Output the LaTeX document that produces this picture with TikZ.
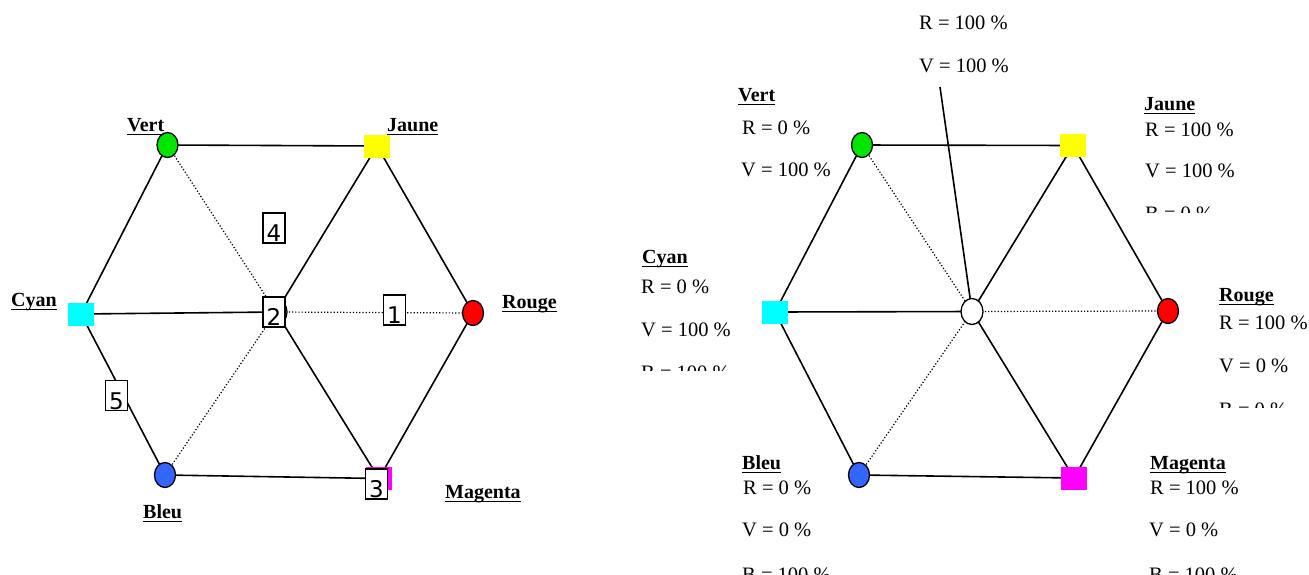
\documentclass[tikz,border=0pt]{standalone}
\usepackage{fontspec}
\setmainfont{Liberation Serif}
\newfontfamily\digfont{DejaVu Sans}
\usetikzlibrary{shapes.geometric}
\pgfdeclarelayer{back}
\pgfdeclarelayer{bg}
\pgfsetlayers{back,bg,main}
\definecolor{cgreen}{RGB}{0,230,0}
\definecolor{cyellow}{RGB}{255,255,0}
\definecolor{ccyan}{RGB}{0,255,255}
\definecolor{cred}{RGB}{255,0,0}
\definecolor{cblue}{RGB}{51,102,255}
\definecolor{cmag}{RGB}{255,0,255}
\newsavebox\ulbox
\newcommand\uln[1]{\sbox\ulbox{#1}\rlap{\rule[-4pt]{\wd\ulbox}{1.4pt}}\usebox\ulbox}
\tikzset{
  edge/.style={line width=1.6pt},
  dotedge/.style={line width=1.2pt, dotted},
  circ/.style={ellipse, draw, line width=1.3pt, minimum width=21pt, minimum height=25pt, inner sep=0pt},
  sq/.style={rectangle, minimum width=26pt, minimum height=23pt, inner sep=0pt},
  numbox/.style={draw, fill=white, line width=1.2pt, minimum width=22pt, minimum height=30pt, inner sep=0pt, text height=27pt, text depth=0pt, font=\digfont\fontsize{23}{23}\selectfont},
  lbl/.style={anchor=base west, inner sep=0pt, font=\bfseries\fontsize{20}{24}\selectfont},
  val/.style={anchor=base west, inner sep=0pt, font=\fontsize{20.5}{24}\selectfont},
}
\begin{document}
\begin{tikzpicture}[x=1pt,y=-1pt]
\useasboundingbox (0,0) rectangle (1309,574);
\begin{pgfonlayer}{back}
\fill[white] (0,0) rectangle (1309,574);
\end{pgfonlayer}
% ---------------- left diagram ----------------
\node[circ, fill=cgreen] (lV) at (167.5,145) {};
\node[sq, fill=cyellow] (lJ) at (377,146) {};
\node[sq, fill=ccyan] (lC) at (81,314) {};
\node[circ, fill=white, minimum width=22pt, minimum height=26pt] (lO) at (276,312) {};
\node[circ, fill=cred] (lR) at (473,313) {};
\node[circ, fill=cblue] (lB) at (165,475) {};
\node[sq, fill=cmag] (lM) at (379,478.5) {};
\node[numbox] (b2) at (274,312) {2};
\node[numbox] (b1) at (394.5,310) {1};
\node[numbox] (b4) at (274,228) {4};
\node[numbox] (b5) at (116.5,395.5) {5};
\node[numbox] (b3) at (376.5,484) {3};
\node[lbl] (lVt) at (127,131) {\uln{Vert}};
\node[lbl] (lJt) at (387,131) {\uln{Jaune}};
\node[lbl] (lCt) at (11,306) {\uln{Cyan}};
\node[lbl] (lRt) at (502,308) {\uln{Rouge}};
\node[lbl] (lBt) at (143,518) {\uln{Bleu}};
\node[lbl] (lMt) at (445,498) {\uln{Magenta}};
\begin{pgfonlayer}{bg}
\draw[edge] (lV.center) -- (lJ.center) -- (lR.center) -- (lM.center) -- (lB.center) -- (lC.center) -- (lV.center);
\draw[edge] (lC.center) -- (lO.center);
\draw[edge] (lJ.center) -- (lO.center) -- (lM.center);
\draw[dotedge] (lV.center) -- (lO.center);
\draw[dotedge] (lB.center) -- (lO.center);
\draw[dotedge] (lO.center) -- (lR.center);
\end{pgfonlayer}
% ---------------- right diagram ----------------
\node[circ, fill=cgreen] (rV) at (862,145) {};
\node[sq, fill=cyellow] (rJ) at (1073,145.5) {};
\node[sq, fill=ccyan] (rC) at (775,312) {};
\node[circ, fill=white, minimum width=22pt, minimum height=26pt] (rO) at (972,311.5) {};
\node[circ, fill=cred] (rR) at (1168,311) {};
\node[circ, fill=cblue] (rB) at (859,475) {};
\node[sq, fill=cmag] (rM) at (1074,478) {};
\coordinate (tp) at (940,87);
\begin{pgfonlayer}{bg}
\draw[edge] (rV.center) -- (rJ.center) -- (rR.center) -- (rM.center) -- (rB.center) -- (rC.center) -- (rV.center);
\draw[edge] (rC.center) -- (rO.center);
\draw[edge] (rJ.center) -- (rO.center) -- (rM.center);
\draw[dotedge] (rV.center) -- (rO.center);
\draw[dotedge] (rB.center) -- (rO.center);
\draw[dotedge] (rO.center) -- (rR.center);
\draw[edge] (tp) -- (rO.center);
\end{pgfonlayer}
% texts
\node[val] (w1) at (919,29) {R = 100 \%};
\node[val] (w2) at (919,72) {V = 100 \%};
\node[lbl] (vt) at (738,101) {\uln{Vert}};
\node[val] (v1) at (742,134) {R = 0 \%};
\node[val] (v2) at (741,176) {V = 100 \%};
\node[lbl] (jt) at (1144,110) {\uln{Jaune}};
\node[val] (j1) at (1145,136) {R = 100 \%};
\node[val] (j2) at (1145,177) {V = 100 \%};
\begin{scope}
\clip (1100,190) rectangle (1300,212);
\node[val] (j3) at (1145,220) {B = 0 \%};
\end{scope}
\node[lbl] (ct) at (642,263) {\uln{Cyan}};
\node[val] (c1) at (641,293) {R = 0 \%};
\node[val] (c2) at (641,336) {V = 100 \%};
\begin{scope}
\clip (630,350) rectangle (760,370);
\node[val] (c3) at (641,379) {B = 100 \%};
\end{scope}
\node[lbl] (rt) at (1219,301) {\uln{Rouge}};
\node[val] (r1) at (1219,329) {R = 100 \%};
\node[val] (r2) at (1219,372) {V = 0 \%};
\begin{scope}
\clip (1200,390) rectangle (1309,407);
\node[val] (r3) at (1219,416) {B = 0 \%};
\end{scope}
\node[lbl] (bt) at (742,469) {\uln{Bleu}};
\node[val] (bb1) at (743,494) {R = 0 \%};
\node[val] (bb2) at (742,536) {V = 0 \%};
\begin{scope}
\clip (700,550) rectangle (900,574);
\node[val] (bb3) at (742,581) {B = 100 \%};
\end{scope}
\node[lbl] (mt) at (1150,469) {\uln{Magenta}};
\node[val] (m1) at (1150,494) {R = 100 \%};
\node[val] (m2) at (1149,536) {V = 0 \%};
\begin{scope}
\clip (1100,550) rectangle (1300,574);
\node[val] (m3) at (1149,581) {B = 100 \%};
\end{scope}
\end{tikzpicture}
\end{document}
